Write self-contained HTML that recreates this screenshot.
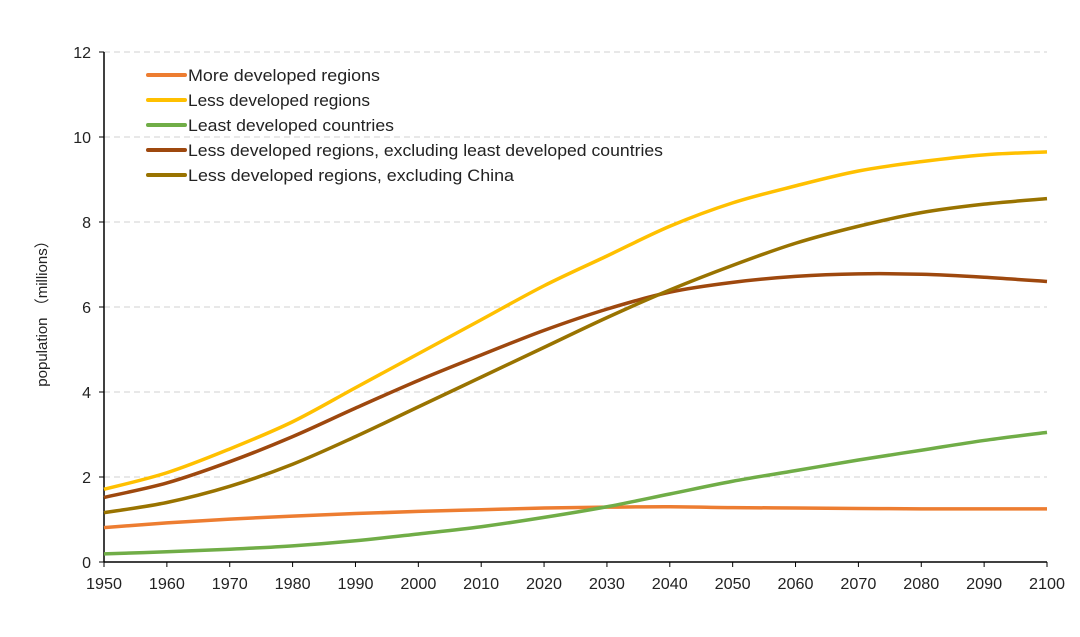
<!DOCTYPE html>
<html><head><meta charset="utf-8"><style>
body{margin:0;background:#fff}
svg{display:block;font-family:"Liberation Sans","Noto Sans CJK SC",sans-serif}
</style></head><body>
<svg id="c" width="1080" height="637"></svg>
<script>
const years=[1950,1960,1970,1980,1990,2000,2010,2020,2030,2040,2050,2060,2070,2080,2090,2100];
const moreDeveloped=[0.81,0.92,1.01,1.08,1.14,1.19,1.23,1.27,1.29,1.30,1.28,1.27,1.26,1.25,1.25,1.25];
const lessDeveloped=[1.71,2.1,2.66,3.3,4.1,4.9,5.7,6.5,7.2,7.9,8.45,8.85,9.2,9.42,9.58,9.65];
const leastDeveloped=[0.19,0.24,0.3,0.38,0.5,0.66,0.83,1.05,1.3,1.6,1.9,2.15,2.4,2.63,2.86,3.05];
const lessExclLeast=[1.52,1.86,2.36,2.95,3.62,4.27,4.87,5.45,5.95,6.35,6.58,6.72,6.78,6.77,6.7,6.6];
const lessExclChina=[1.16,1.4,1.78,2.3,2.95,3.65,4.35,5.05,5.75,6.4,6.98,7.5,7.9,8.22,8.42,8.55];
const yTicks=[0,2,4,6,8,10,12];
const xTicks=[1950,1960,1970,1980,1990,2000,2010,2020,2030,2040,2050,2060,2070,2080,2090,2100];
const seriesNames=["More developed regions","Less developed regions","Least developed countries","Less developed regions, excluding least developed countries","Less developed regions, excluding China"];
const seriesData=[moreDeveloped,lessDeveloped,leastDeveloped,lessExclLeast,lessExclChina];
const colors=["#ED7D31","#FFC000","#70AD47","#9E480E","#997300"];
const slugs=["more-developed","less-developed","least-developed","less-excl-least","less-excl-china"];
const legendWidths=[192,182,206,475,326];
const X0=104,X1=1047,Y0=562,Y1=52;
const x=v=>X0+(v-1950)/150*(X1-X0);
const y=v=>Y0-v/12*(Y0-Y1);
const svg=document.getElementById('c');
const NS="http://www.w3.org/2000/svg";
function mk(t,a,p){const e=document.createElementNS(NS,t);for(const k in a)e.setAttribute(k,a[k]);(p||svg).appendChild(e);return e;}
function smooth(pts){let d='M'+pts[0][0]+','+pts[0][1];
 for(let i=0;i<pts.length-1;i++){const p0=pts[i-1]||pts[i],p1=pts[i],p2=pts[i+1],p3=pts[i+2]||p2;
  const c1=[p1[0]+(p2[0]-p0[0])/6,p1[1]+(p2[1]-p0[1])/6],c2=[p2[0]-(p3[0]-p1[0])/6,p2[1]-(p3[1]-p1[1])/6];
  d+=' C'+c1.join(',')+' '+c2.join(',')+' '+p2.join(',');}
 return d;}
yTicks.forEach(t=>{
 if(t>0){const g=mk('line',{x1:X0,x2:X1,y1:y(t),y2:y(t),stroke:'#d0d0d0','stroke-dasharray':'6,4','stroke-width':1});
 
 }
 const tk=mk('line',{x1:X0-5,x2:X0,y1:y(t),y2:y(t),stroke:'#000'});
 
 
 const l=mk('text',{x:X0-13,y:y(t)+6,'text-anchor':'end','font-size':16,fill:'#222'});l.textContent=t;
 
 
});
xTicks.forEach(t=>{
 const tk=mk('line',{x1:x(t),x2:x(t),y1:Y0,y2:Y0+5,stroke:'#000'});
 
 
 const l=mk('text',{x:x(t),y:Y0+27,'text-anchor':'middle','font-size':15.5,fill:'#222',textLength:36,lengthAdjust:'spacingAndGlyphs'});l.textContent=t;
 
 
});
const ya=mk('line',{x1:X0,x2:X0,y1:Y1,y2:Y0,stroke:'#000','stroke-width':1.5});


const xa=mk('line',{x1:X0,x2:X1,y1:Y0,y2:Y0,stroke:'#000','stroke-width':1.5});


const yt=mk('text',{x:0,y:0,transform:'translate(47,310) rotate(-90)','text-anchor':'middle','font-size':15,fill:'#222'});
yt.textContent='population （millions）';


seriesData.forEach((d,i)=>{
 const p=mk('path',{d:smooth(d.map((v,j)=>[x(years[j]),y(v)])),fill:'none',stroke:colors[i],'stroke-width':3.5,'stroke-linejoin':'round'});
 
 
 const ly=75+i*25;
 const ll=mk('line',{x1:148,x2:185,y1:ly,y2:ly,stroke:colors[i],'stroke-width':4,'stroke-linecap':'round'});
 
 
 const lt=mk('text',{x:188,y:ly+6,'font-size':17,fill:'#222',textLength:legendWidths[i],lengthAdjust:'spacingAndGlyphs'});lt.textContent=seriesNames[i];
 
 
});
</script>
</body></html>
